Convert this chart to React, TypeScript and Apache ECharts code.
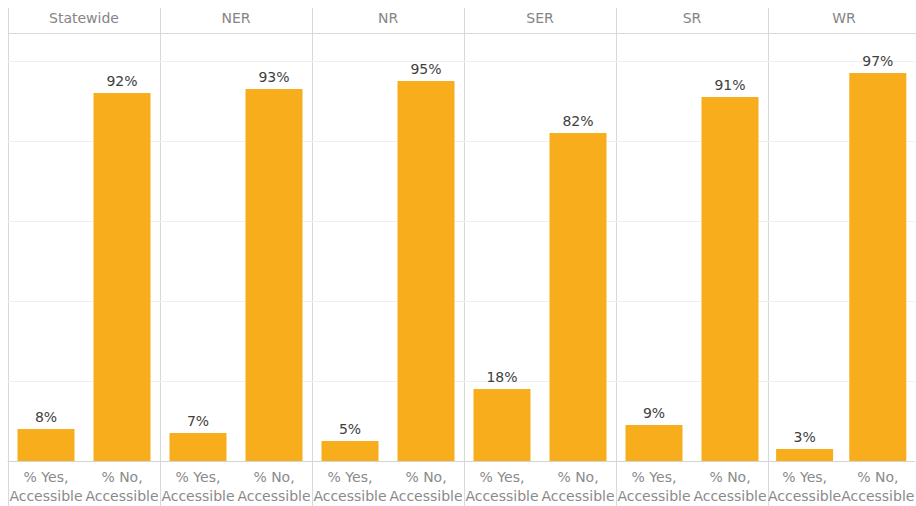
import React, { useEffect, useRef } from "react";
import * as echarts from "echarts";

const regions = ["Statewide", "NER", "NR", "SER", "SR", "WR"];
const categories = ["% Yes,\nAccessible", "% No,\nAccessible"];
const yesValues = [8, 7, 5, 18, 9, 3];
const noValues = [92, 93, 95, 82, 91, 97];
const yTicks = [0, 20, 40, 60, 80, 100];

export default function App() {
  const ref = useRef<HTMLDivElement>(null);
  useEffect(() => {
    if (!ref.current) return;
    const chart = echarts.init(ref.current, undefined, { renderer: "svg" });
    const font = "DejaVu Sans";
    const panelLeft = 8;
    const panelW = 152;
    const headerBottom = 33;
    const top = 61;
    const baseline = 461;
    const grids: any[] = [];
    const xAxes: any[] = [];
    const yAxes: any[] = [];
    const series: any[] = [];
    const graphics: any[] = [];
    regions.forEach((r, i) => {
      grids.push({
        left: panelLeft + panelW * i,
        top,
        width: panelW,
        height: baseline - top,
        containLabel: false,
      });
      xAxes.push({
        type: "category",
        gridIndex: i,
        data: categories,
        axisTick: { show: false },
        axisLine: { show: true, lineStyle: { color: "#d4d4d4", width: 1 } },
        axisLabel: {
          interval: 0,
          hideOverlap: false,
          color: "#8a8a8a",
          fontFamily: font,
          fontSize: 14,
          lineHeight: 19,
          margin: 6,
        },
      });
      yAxes.push({
        type: "value",
        gridIndex: i,
        min: yTicks[0],
        max: yTicks[yTicks.length - 1],
        interval: 20,
        axisLabel: { show: false },
        axisLine: { show: false },
        axisTick: { show: false },
        splitLine: { show: true, lineStyle: { color: "#f0f0f0", width: 1 } },
      });
      series.push({
        type: "bar",
        xAxisIndex: i,
        yAxisIndex: i,
        data: [yesValues[i], noValues[i]],
        barWidth: 57,
        itemStyle: { color: "#F8AD1C" },
        label: {
          show: true,
          position: "top",
          distance: 5,
          color: "#404040",
          fontFamily: font,
          fontSize: 14,
          formatter: (p: any) => `${p.value}%`,
        },
      });
      graphics.push({
        type: "text",
        x: panelLeft + panelW * i + panelW / 2,
        y: 18,
        style: {
          text: r,
          fill: "#858585",
          font: `14px "${font}"`,
          textAlign: "center",
          textVerticalAlign: "middle",
        },
      });
    });
    for (let i = 0; i <= regions.length; i++) {
      const x = panelLeft + panelW * i;
      graphics.push({
        type: "line",
        shape: { x1: x + 0.5, y1: 8, x2: x + 0.5, y2: 506 },
        style: { stroke: "#d9d9d9", lineWidth: 1 },
      });
    }
    graphics.push({
      type: "line",
      shape: { x1: 8, y1: headerBottom + 0.5, x2: 916, y2: headerBottom + 0.5 },
      style: { stroke: "#d9d9d9", lineWidth: 1 },
    });
    chart.setOption({
      animation: false,
      backgroundColor: "#ffffff",
      grid: grids,
      xAxis: xAxes,
      yAxis: yAxes,
      series,
      graphic: graphics,
    });
    return () => chart.dispose();
  }, []);
  return (
    <div
      ref={ref}
      style={{ position: "fixed", left: 0, top: 0, width: 916, height: 506 }}
    />
  );
}
